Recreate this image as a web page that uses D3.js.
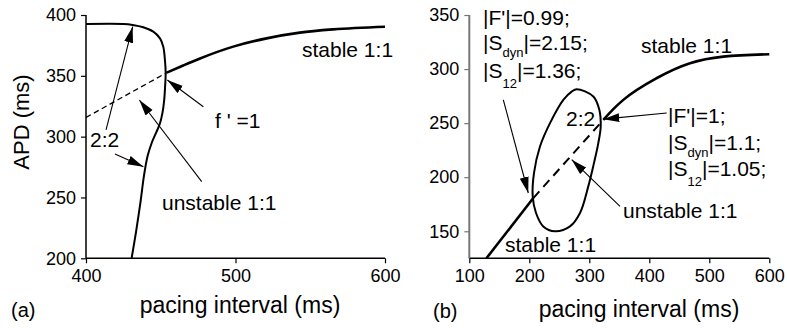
<!DOCTYPE html>
<html>
<head>
<meta charset="utf-8">
<script src="https://cdn.jsdelivr.net/npm/d3@7"></script>
<style>
  body { margin: 0; background: #fff; }
  svg text { font-family: "Liberation Sans", Arial, Helvetica, sans-serif; fill: #000; }
</style>
</head>
<body>
<svg id="chart"></svg>
<script>
// ---- panel (a) data: pacing interval (ms) vs APD (ms)
const aXTicks = [400, 500, 600];
const aYTicks = [200, 250, 300, 350, 400];
const aBranch22 = [
  [400, 392.6], [425, 392.6], [431.2, 391.8], [438.3, 389.9], [445, 386.3],
  [449.5, 380.8], [451.7, 373.9], [452.8, 363], [453.3, 352.1], [452.9, 341],
  [452.3, 330], [451.2, 320], [449.5, 311], [447, 303.5], [444, 295],
  [441.2, 284], [438.8, 268], [436.3, 245], [433.5, 222], [430.5, 200]
];
const aStable = [
  [454, 352.6], [465, 358.5], [476.3, 364.3], [498.5, 374], [520.8, 380.8],
  [543, 385.5], [565.4, 388.2], [600, 390.4]
];
const aUnstable = [[400, 315.8], [454, 352.6]];
// arrows: [fromX, fromY, tipX, tipY]
const aArrows = [
  [413.4, 305.5, 431.2, 390.4],
  [419.4, 285.7, 438.4, 275.3],
  [478.5, 324.6, 454.4, 346.6],
  [477.4, 263, 435.7, 330.1]
];

// ---- panel (b) data
const bXTicks = [100, 200, 300, 400, 500, 600];
const bYTicks = [150, 200, 250, 300, 350];
const bStableLow = [[128.5, 125], [206.7, 180.7]];
const bStableHigh = [
  [323.3, 253], [340, 263], [356.7, 271.5], [412, 291.5], [467.8, 305.4],
  [523.3, 311.5], [600, 313.7]
];
const bUnstable = [[206.7, 180.7], [323.3, 253]];
const bLoop22 = [
  [279, 281.4], [306.7, 274.6], [316.7, 262.3], [319, 246.9], [315, 231.5],
  [307.8, 213.1], [298.3, 191.5], [284.5, 166.9], [267.8, 154.5], [242.8, 150],
  [223.3, 154.5], [211.2, 166.9], [205.7, 182.2], [207.8, 203.8], [217.8, 228.4],
  [234.5, 250], [256.7, 271.5], [270.6, 279.2]
];
const bArrows = [
  [156.7, 271.6, 198.3, 185.4],
  [429, 259.3, 323.3, 253.7],
  [351.2, 173, 270.7, 216.2]
];

const W = 787, H = 328;
const svg = d3.select('#chart').attr('width', W).attr('height', H);

svg.append('defs').append('marker')
  .attr('id', 'head')
  .attr('markerUnits', 'userSpaceOnUse')
  .attr('viewBox', '0 0 16 10')
  .attr('refX', 16).attr('refY', 5)
  .attr('markerWidth', 16).attr('markerHeight', 10)
  .attr('orient', 'auto')
  .append('path').attr('d', 'M0,0.5 L16,5 L0,9.5 Z').attr('fill', '#000');

function drawAxes(x, y, xTicks, yTicks, xMinor, yMinor, yColor) {
  const top = y.range()[1], bottom = y.range()[0];
  const gx = svg.append('g').attr('transform', 'translate(0,' + bottom + ')');
  gx.call(d3.axisBottom(x).tickValues(xMinor).tickSize(3).tickFormat(''));
  gx.call(d3.axisBottom(x).tickValues(xTicks).tickSize(5).tickPadding(6).tickFormat(d3.format('d')));
  gx.select('.domain').remove();
  gx.selectAll('line').attr('stroke', '#000').attr('stroke-width', 1.2);
  gx.selectAll('text').attr('font-size', 18);
  svg.append('line')
    .attr('x1', x.range()[0]).attr('x2', x.range()[1])
    .attr('y1', bottom).attr('y2', bottom)
    .attr('stroke', '#000').attr('stroke-width', 1.5);

  const gy = svg.append('g').attr('transform', 'translate(' + x.range()[0] + ',0)');
  gy.call(d3.axisLeft(y).tickValues(yMinor).tickSize(3).tickFormat(''));
  gy.call(d3.axisLeft(y).tickValues(yTicks).tickSize(5).tickPadding(5).tickFormat(d3.format('d')));
  gy.select('.domain').remove();
  gy.selectAll('line').attr('stroke', yColor).attr('stroke-width', 1.2);
  gy.selectAll('text').attr('font-size', 18);
  svg.append('line')
    .attr('x1', x.range()[0]).attr('x2', x.range()[0])
    .attr('y1', top).attr('y2', bottom)
    .attr('stroke', yColor).attr('stroke-width', yColor === '#000' ? 1.5 : 2);
}

function path(pts, x, y, curve, width, dash) {
  const line = d3.line().x(d => x(d[0])).y(d => y(d[1])).curve(curve);
  return svg.append('path').attr('d', line(pts))
    .attr('fill', 'none').attr('stroke', '#000')
    .attr('stroke-width', width)
    .attr('stroke-dasharray', dash || null)
    .attr('stroke-linejoin', 'round');
}

function arrows(list, x, y) {
  list.forEach(a => {
    svg.append('line')
      .attr('x1', x(a[0])).attr('y1', y(a[1]))
      .attr('x2', x(a[2])).attr('y2', y(a[3]))
      .attr('stroke', '#000').attr('stroke-width', 1.1)
      .attr('marker-end', 'url(#head)');
  });
}

function label(txt, px, py, size) {
  return svg.append('text').attr('x', px).attr('y', py)
    .attr('font-size', size || 21).text(txt);
}

// subscripted lines like |S_dyn|=2.15;
function subLabel(px, py, pre, sub, post, shift) {
  const t = svg.append('text').attr('x', px).attr('y', py).attr('font-size', 21);
  t.append('tspan').text(pre);
  t.append('tspan').attr('font-size', 13).attr('dy', shift).text(sub);
  t.append('tspan').attr('dy', -shift).text(post);
}

// ---------- panel (a)
const xa = d3.scaleLinear().domain([400, 600]).range([86, 385]);
const ya = d3.scaleLinear().domain([200, 400]).range([258.3, 15]);
drawAxes(xa, ya, aXTicks, aYTicks, [450, 550], [225, 275, 325, 375], '#000');

path(aUnstable, xa, ya, d3.curveLinear, 1.3, '5.5,3.5');
path(aBranch22, xa, ya, d3.curveCatmullRom.alpha(0.5), 2);
path(aStable, xa, ya, d3.curveMonotoneX, 2.6);
arrows(aArrows, xa, ya);

label('stable 1:1', 302, 57);
label("f ' =1", 215, 128);
label('2:2', 90, 147);
label('unstable 1:1', 162, 210);

svg.append('text').attr('x', 240).attr('y', 313).attr('text-anchor', 'middle')
  .attr('font-size', 23).text('pacing interval (ms)');
svg.append('text').attr('transform', 'translate(29,122) rotate(-90)')
  .attr('text-anchor', 'middle').attr('font-size', 22).text('APD (ms)');
label('(a)', 11, 317, 20);

// ---------- panel (b)
const xb = d3.scaleLinear().domain([100, 600]).range([469.3, 769.3]);
const yb = d3.scaleLinear().domain([125, 350]).range([258.3, 15]);
drawAxes(xb, yb, bXTicks, bYTicks, [150, 250, 350, 450, 550], [175, 225, 275, 325], '#777');

path(bUnstable, xb, yb, d3.curveLinear, 2, '9,6');
path(bStableLow, xb, yb, d3.curveLinear, 2.6);
path(bStableHigh, xb, yb, d3.curveMonotoneX, 2.6);
path(bLoop22, xb, yb, d3.curveCatmullRomClosed, 2);
arrows(bArrows, xb, yb);

label("|F'|=0.99;", 483, 25);
subLabel(483, 50, '|S', 'dyn', '|=2.15;', 7);
subLabel(483, 78, '|S', '12', '|=1.36;', 10);

label("|F'|=1;", 668, 123);
subLabel(668, 150, '|S', 'dyn', '|=1.1;', 7);
subLabel(668, 176, '|S', '12', '|=1.05;', 10);

label('stable 1:1', 641, 53);
label('2:2', 566, 126);
label('unstable 1:1', 623, 218);
label('stable 1:1', 505, 252);

svg.append('text').attr('x', 639).attr('y', 317).attr('text-anchor', 'middle')
  .attr('font-size', 23).text('pacing interval (ms)');
label('(b)', 433, 318, 20);
</script>
</body>
</html>
